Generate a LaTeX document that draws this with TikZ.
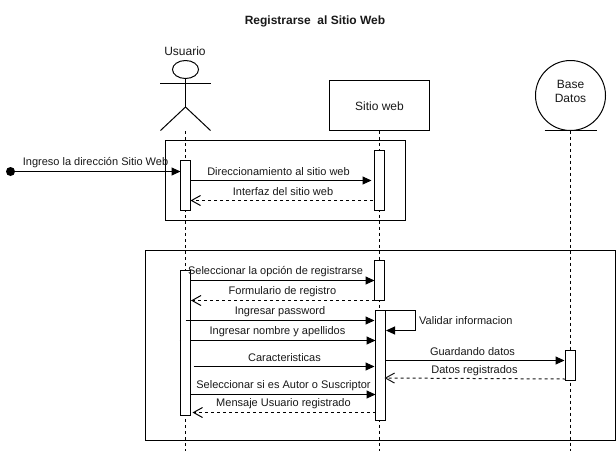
\documentclass[tikz,border=0pt]{standalone}
\usepackage{fontspec}
\setmainfont{Liberation Sans}
\usetikzlibrary{arrows.meta,calc,shapes.geometric}
\tikzset{
  x=1pt,y=-1pt,
  ink/.style={draw=black,line width=1pt},
  frame/.style={ink},
  lifeline/.style={ink,dash pattern=on 3pt off 3pt},
  act/.style={ink,fill=white,rectangle,minimum width=10pt,inner sep=0pt,outer sep=0pt},
  lifebox/.style={ink,fill=white,rectangle,minimum width=100pt,minimum height=50pt,inner sep=0pt,outer sep=0pt},
  txt/.style={font=\fontsize{11}{13}\selectfont,inner sep=0pt,text=black!90,align=center,yshift=-1pt},
  big/.style={font=\fontsize{12}{14}\selectfont},
  msg/.style={ink,-{Triangle[length=9pt,width=8pt]}},
  ret/.style={ink,dash pattern=on 3pt off 3pt,-{Straight Barb[length=9pt,width=10pt]}},
}
\begin{document}
\begin{tikzpicture}
\useasboundingbox (0,0) rectangle (616,451);
\fill[white] (0,0) rectangle (616,451);

% frames
\node[frame,rectangle,minimum width=240pt,minimum height=80pt,inner sep=0pt,outer sep=0pt] (F1) at (285.5,180.5) {};
\node[frame,rectangle,minimum width=470pt,minimum height=190pt,inner sep=0pt,outer sep=0pt] (F2) at (380.5,345.5) {};

% title
\node[txt,font=\fontsize{12}{14}\selectfont\bfseries] (title) at (315,20.5) {Registrarse\ \ al Sitio Web};

% actor
\node[txt,big] (usuario) at (185,50.5) {Usuario};
\node[ink,ellipse,minimum width=26pt,minimum height=18pt,inner sep=0pt,outer sep=0pt] (head) at (185.5,69.5) {};
\coordinate (neck) at (185.5,83.5);
\coordinate (armL) at (160,83.5);
\coordinate (armR) at (211,83.5);
\coordinate (hip) at (185.5,107);
\coordinate (legL) at (160.5,130.5);
\coordinate (legR) at (210.5,130.5);
\draw[ink] (head.south) -- (hip);
\draw[ink] (armL) -- (armR);
\draw[ink] (legL) -- (hip) -- (legR);

% life boxes
\node[lifebox] (web) at (379.5,105.5) {};
\node[txt,big] (webt) at (379.5,105) {Sitio web};
\node[ink,circle,minimum size=70pt,inner sep=0pt,outer sep=0pt] (db) at (570.5,95.5) {};
\node[txt,big] (dbt) at (570.5,90) {Base\\Datos};
\coordinate (dbL) at (544.5,130.5);
\coordinate (dbR) at (597,130.5);
\draw[ink] (dbL) -- (dbR);

% lifelines
\coordinate (endA) at (185.5,451);
\coordinate (endB) at (379.5,451);
\coordinate (endC) at (570.5,451);
\coordinate (startA) at (185.5,131);
\draw[lifeline] (startA) -- (endA);
\draw[lifeline] (web.south) -- (endB);
\draw[lifeline] (db.south) -- (endC);

% stub of the message hidden behind the bar
\coordinate (stub) at (179.5,340.5);

% activations
\node[act,minimum height=50pt] (A1) at (185.5,185.5) {};
\node[act,minimum height=60pt] (B1) at (379.5,180.5) {};
\node[act,minimum height=145pt] (A2) at (185.5,343) {};
\node[act,minimum height=40pt] (B2) at (379.5,280.5) {};
\node[act,minimum height=110pt] (B3) at (380.5,365.5) {};
\node[act,minimum height=30pt] (C1) at (570.5,365.5) {};
\draw[ink,line width=.8pt] (stub) -- ++(1.5,0);

% start dot
\fill[black] (10.5,171.5) circle (4.5pt);
\coordinate (dot) at (10.5,171.5);

% messages
\draw[msg] (dot) -- (A1.west |- dot);
\node[txt] (m0) at (95.5,162) {Ingreso la dirección Sitio Web};

\draw[msg] (A1.east |- 0,180.5) -- ($(B1.west |- 0,180.5)+(-3,0)$);
\node[txt] (m1) at (278.5,171) {Direccionamiento al sitio web};
\draw[ret] ($(B1.west |- 0,200.5)+(-1.5,0)$) -- (A1.east |- 0,200.5);
\node[txt] (m2) at (283,191) {Interfaz del sitio web};

\draw[msg] (A2.east |- 0,280.5) -- (B2.west |- 0,280.5);
\node[txt] (m3) at (275.5,271) {Seleccionar la opción de registrarse};
\draw[ret] (B2.west |- 0,300.5) -- ($(A2.east |- 0,300.5)+(.5,0)$);
\node[txt] (m4) at (282.5,291) {Formulario de registro};

\draw[msg] (A2.center |- 0,320.5) -- ($(B3.west |- 0,320.5)+(-1,0)$);
\node[txt] (m5) at (280,311) {Ingresar password};
\draw[msg] (A2.east |- 0,340.5) -- (B3.west |- 0,340.5);
\node[txt] (m6) at (277.5,331) {Ingresar nombre y apellidos};
\draw[msg] ($(A2.east |- 0,366.5)+(3,0)$) -- ($(B3.west |- 0,366.5)+(-1,0)$);
\node[txt] (m7) at (284.5,357) {Caracteristicas};
\draw[msg] (A2.east |- 0,394.5) -- (B3.west |- 0,394.5);
\node[txt] (m8) at (283.5,385) {Seleccionar si es Autor o Suscriptor};
\draw[ret] (B3.west |- 0,412.5) -- ($(A2.east |- 0,412.5)+(2,0)$);
\node[txt] (m9) at (283.5,403) {Mensaje Usuario registrado};

% self message
\coordinate (selfA) at (415.5,310.5);
\coordinate (selfB) at (415.5,330.5);
\draw[msg] (B3.north east) -- (selfA) -- (selfB) -- ($(B3.east |- selfB)+(.5,0)$);
\node[txt,anchor=west] (m10) at (419,320) {Validar informacion};

% data store
\draw[msg] (B3.east |- 0,360.5) -- ($(C1.west |- 0,360.5)+(-1,0)$);
\node[txt] (m11) at (472.5,351) {Guardando datos};
\draw[ret,draw=black!90] (C1.west |- 0,379) -- ($(B3.east |- 0,378)+(-1,0)$);
\node[txt] (m12) at (474.5,369.5) {Datos registrados};
\end{tikzpicture}
\end{document}
